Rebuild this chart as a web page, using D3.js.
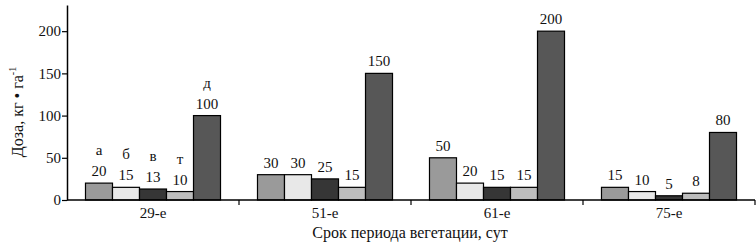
<!DOCTYPE html>
<meta charset="utf-8">
<script src="https://d3js.org/d3.v7.min.js"></script>
<style>
  body { margin: 0; background: #fff; }
</style>
<svg id="chart" width="756" height="244" font-family="Liberation Serif"></svg>
<script>

// data
const periods = ["29-е", "51-е", "61-е", "75-е"];
const series = ["а", "б", "в", "т", "д"];
const doses = [
  [20, 15, 13, 10, 100],
  [30, 30, 25, 15, 150],
  [50, 20, 15, 15, 200],
  [15, 10, 5, 8, 80]
];
const yTicks = [0, 50, 100, 150, 200];
const colors = ["#9a9a9a", "#e8e8e8", "#363636", "#bdbdbd", "#575757"];

const font = "Liberation Serif";
const svg = d3.select("#chart");

// scales
const x0 = d3.scaleBand()
    .domain(periods)
    .range([67, 755])
    .paddingInner(0.215)
    .paddingOuter(0.1075);

const x1 = d3.scaleBand()
    .domain(series)
    .range([0, x0.bandwidth()]);

const y = d3.scaleLinear()
    .domain([0, 231])
    .range([200, 5]);

const color = d3.scaleOrdinal().domain(series).range(colors);

// bars
const groups = svg.append("g")
  .selectAll("g")
  .data(periods)
  .join("g")
    .attr("transform", d => `translate(${x0(d)},0)`);

groups.selectAll("rect")
  .data((d, i) => series.map((s, j) => ({s: s, v: doses[i][j]})))
  .join("rect")
    .attr("x", d => x1(d.s))
    .attr("y", d => y(d.v))
    .attr("width", x1.bandwidth())
    .attr("height", d => y(0) - y(d.v))
    .attr("fill", d => color(d.s))
    .attr("stroke", "#000")
    .attr("stroke-width", 1.2);

// value labels
groups.selectAll("text.val")
  .data((d, i) => series.map((s, j) => ({s: s, v: doses[i][j]})))
  .join("text")
    .attr("class", "val")
    .attr("x", d => x1(d.s) + x1.bandwidth() / 2)
    .attr("y", d => y(d.v) - 7)
    .attr("text-anchor", "middle")
    .attr("font-family", font)
    .attr("font-size", 15)
    .attr("fill", "#111")
    .text(d => d.v);

// series letters over the first group
groups.filter((d, i) => i === 0)
  .selectAll("text.lett")
  .data(series.map((s, j) => ({s: s, v: doses[0][j]})))
  .join("text")
    .attr("class", "lett")
    .attr("x", d => x1(d.s) + x1.bandwidth() / 2)
    .attr("y", d => y(d.v) - 28)
    .attr("text-anchor", "middle")
    .attr("font-family", font)
    .attr("font-size", 15)
    .attr("fill", "#111")
    .text(d => d.s);

// y axis
const yAxis = svg.append("g")
    .attr("transform", "translate(67,0)")
    .call(d3.axisLeft(y).tickValues(yTicks).tickSize(5).tickPadding(1).tickSizeOuter(0))
    .attr("font-family", font)
    .attr("font-size", 15);
yAxis.select(".domain").attr("stroke", "#000").attr("stroke-width", 1.5);
yAxis.selectAll(".tick line").attr("stroke", "#000").attr("stroke-width", 1.2);
yAxis.selectAll(".tick text")
    .attr("font-family", font)
    .attr("font-size", 15)
    .attr("fill", "#111");

// x axis with ticks at group borders
svg.append("line")
    .attr("x1", 67).attr("x2", 755)
    .attr("y1", y(0)).attr("y2", y(0))
    .attr("stroke", "#000").attr("stroke-width", 1.5);

const step = x0.step();
svg.append("g")
  .selectAll("line")
  .data(periods)
  .join("line")
    .attr("x1", d => x0(d) + x0.bandwidth() / 2 + step / 2)
    .attr("x2", d => x0(d) + x0.bandwidth() / 2 + step / 2)
    .attr("y1", y(0))
    .attr("y2", y(0) + 5)
    .attr("stroke", "#000")
    .attr("stroke-width", 1.2);

svg.append("g")
  .selectAll("text")
  .data(periods)
  .join("text")
    .attr("x", d => x0(d) + x0.bandwidth() / 2)
    .attr("y", 218)
    .attr("text-anchor", "middle")
    .attr("font-family", font)
    .attr("font-size", 15)
    .attr("fill", "#111")
    .text(d => d);

// axis titles
svg.append("text")
    .attr("x", 410)
    .attr("y", 238)
    .attr("text-anchor", "middle")
    .attr("font-family", font)
    .attr("font-size", 16)
    .attr("fill", "#111")
    .text("Срок периода вегетации, сут");

const yTitle = svg.append("text")
    .attr("transform", "translate(23,112) rotate(-90)")
    .attr("text-anchor", "middle")
    .attr("font-family", font)
    .attr("font-size", 16)
    .attr("fill", "#111");
yTitle.append("tspan").text("Доза, кг • га");
yTitle.append("tspan")
    .attr("dy", -7)
    .attr("font-size", 10)
    .text("-1");

</script>
